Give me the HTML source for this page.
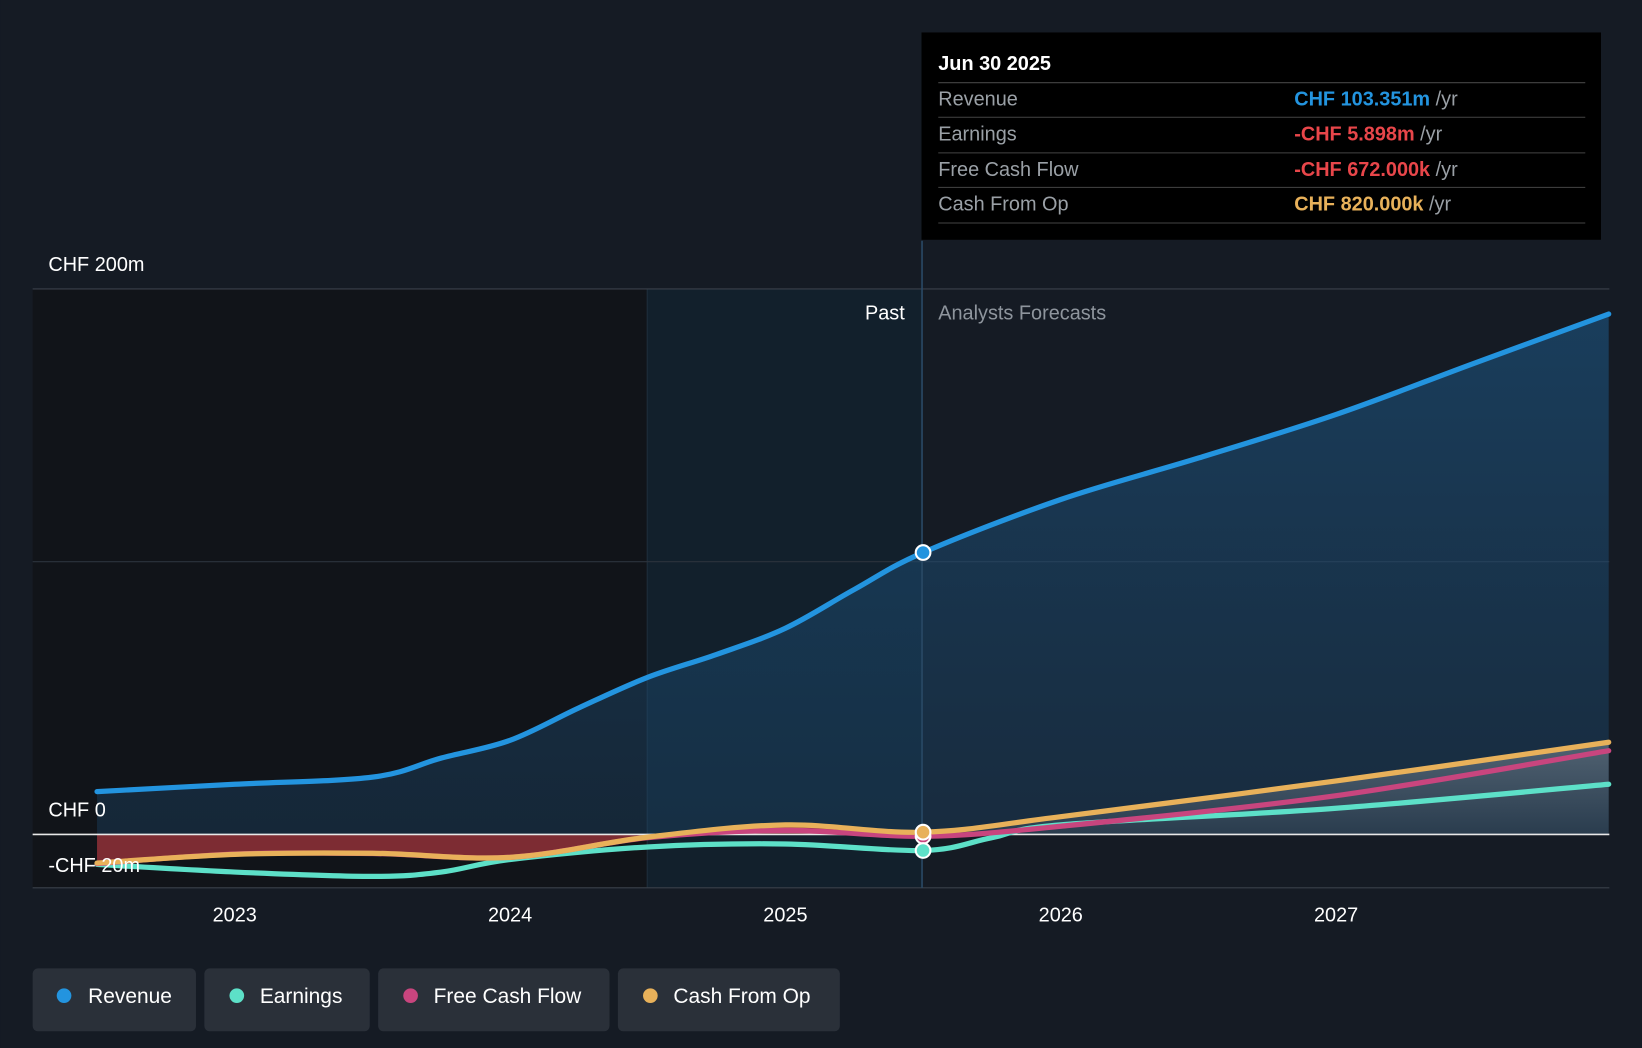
<!DOCTYPE html>
<html><head><meta charset="utf-8"><style>
html,body{margin:0;padding:0;background:#151b24;}
svg{display:block;font-family:"Liberation Sans",sans-serif;}
</style></head><body>
<svg id="chart" width="1642" height="1048" viewBox="0 0 1568 1001" xmlns="http://www.w3.org/2000/svg">
<defs>
<linearGradient id="revg" x1="0" y1="0" x2="0" y2="1"><stop offset="0" stop-color="#1d5a8a" stop-opacity="0.55"/><stop offset="1" stop-color="#1d4a70" stop-opacity="0.35"/></linearGradient>
<linearGradient id="gryg" x1="0" y1="0" x2="0" y2="1"><stop offset="0" stop-color="#8a96a0" stop-opacity="0.5"/><stop offset="1" stop-color="#8a96a0" stop-opacity="0.05"/></linearGradient>
<clipPath id="pastclip"><rect x="0" y="0" width="880" height="1001"/></clipPath>
<clipPath id="futclip"><rect x="880" y="0" width="700" height="797"/></clipPath>
</defs>
<rect width="1568" height="1001" fill="#151b24"/>
<rect x="31" y="276" width="587" height="572" fill="#111419"/>
<rect x="618" y="276" width="262" height="572" fill="#12202c"/>
<line x1="618" y1="276" x2="618" y2="848" stroke="#1f2f3c" stroke-width="1"/>
<line x1="31" y1="276" x2="1537" y2="276" stroke="#3a414a" stroke-width="1"/>
<line x1="31" y1="536.5" x2="1537" y2="536.5" stroke="#2c333c" stroke-width="1"/>
<line x1="31" y1="848" x2="1537" y2="848" stroke="#3a414a" stroke-width="1"/>
<g id="areas"></g>
<line x1="31" y1="797" x2="1537" y2="797" stroke="#e8e8e8" stroke-width="1.5"/>
<g id="lines"></g>
<line x1="880.5" y1="230" x2="880.5" y2="848" stroke="#2a4a66" stroke-width="1.5"/>
<text x="46" y="259" fill="#fff" font-size="19">CHF 200m</text>
<text x="46" y="780" fill="#fff" font-size="19">CHF 0</text>
<text x="46" y="833" fill="#fff" font-size="19">-CHF 20m</text>
<text x="864" y="305" fill="#fff" font-size="19" text-anchor="end">Past</text>
<text x="896" y="305" fill="#8e959d" font-size="19">Analysts Forecasts</text>
<g id="xticks"></g>
<g id="markers"></g>
<g>
<rect x="880" y="31" width="649" height="198" fill="#000"/>
<text x="896" y="67" fill="#fff" font-size="19" font-weight="bold">Jun 30 2025</text>
<line x1="896" y1="79" x2="1514" y2="79" stroke="#444" /><line x1="896" y1="112" x2="1514" y2="112" stroke="#444"/><line x1="896" y1="146" x2="1514" y2="146" stroke="#444"/><line x1="896" y1="179" x2="1514" y2="179" stroke="#444"/><line x1="896" y1="213" x2="1514" y2="213" stroke="#444"/>
<text x="896" y="101" fill="#9aa0a6" font-size="19">Revenue</text><text x="1236" y="101" font-size="19"><tspan fill="#2394df" font-weight="bold">CHF 103.351m</tspan><tspan fill="#9aa0a6"> /yr</tspan></text>
<text x="896" y="134" fill="#9aa0a6" font-size="19">Earnings</text><text x="1236" y="134" font-size="19"><tspan fill="#e8464a" font-weight="bold">-CHF 5.898m</tspan><tspan fill="#9aa0a6"> /yr</tspan></text>
<text x="896" y="168" fill="#9aa0a6" font-size="19">Free Cash Flow</text><text x="1236" y="168" font-size="19"><tspan fill="#e8464a" font-weight="bold">-CHF 672.000k</tspan><tspan fill="#9aa0a6"> /yr</tspan></text>
<text x="896" y="201" fill="#9aa0a6" font-size="19">Cash From Op</text><text x="1236" y="201" font-size="19"><tspan fill="#e8b15a" font-weight="bold">CHF 820.000k</tspan><tspan fill="#9aa0a6"> /yr</tspan></text>
</g>
<g>
<g><rect x="31" y="925" width="156" height="60" rx="5" fill="#2a3039"/><circle cx="61" cy="951" r="7" fill="#2394df"/><text x="84" y="958" fill="#fff" font-size="20">Revenue</text></g>
<g><rect x="195" y="925" width="158" height="60" rx="5" fill="#2a3039"/><circle cx="226" cy="951" r="7" fill="#5de0c8"/><text x="248" y="958" fill="#fff" font-size="20">Earnings</text></g>
<g><rect x="361" y="925" width="221" height="60" rx="5" fill="#2a3039"/><circle cx="392" cy="951" r="7" fill="#c8457e"/><text x="414" y="958" fill="#fff" font-size="20">Free Cash Flow</text></g>
<g><rect x="590" y="925" width="212" height="60" rx="5" fill="#2a3039"/><circle cx="621" cy="951" r="7" fill="#e8b15a"/><text x="643" y="958" fill="#fff" font-size="20">Cash From Op</text></g>
</g>
</svg>
<script>
const years=[2022.5,2023,2023.5,2023.75,2024,2024.25,2024.5,2024.75,2025,2025.25,2025.5,2026,2026.5,2027,2027.5,2027.99];
const revenue=[15.7,18.4,21,28,34.5,46.4,57.6,66,75.6,89.8,103.35,122.8,138,154,172.7,190.8];
const earnTimes=[2022.5,2023,2023.5,2023.75,2024,2024.5,2025,2025.5,2025.75,2026,2027,2027.99];
const earnings=[-11,-13.8,-15.4,-13.8,-9.2,-4.6,-3.5,-5.9,-1.2,3.5,9.6,18.4];
const cfTimes=[2022.5,2023,2023.5,2024,2024.5,2025,2025.5,2026,2027,2027.99];
const fcf=[-10.7,-7.2,-7,-8.4,-1.2,1.5,-0.67,3,14.2,30.7];
const cfo=[-10.5,-7.3,-6.9,-8.4,-1,3.5,0.82,6.5,19.6,33.8];
const tickYears=[2023,2024,2025,2026,2027];
const xS=t=>224+(t-2023)*263;
const yS=v=>797-v*2.605;
const NS="http://www.w3.org/2000/svg";
function pts(ts,vs){return ts.map((t,i)=>[xS(t),yS(vs[i])]);}
function smooth(p){let d=`M${p[0][0]},${p[0][1]}`;for(let i=0;i<p.length-1;i++){const p0=p[i-1]||p[i],p1=p[i],p2=p[i+1],p3=p[i+2]||p2;const c1=[p1[0]+(p2[0]-p0[0])/6,p1[1]+(p2[1]-p0[1])/6],c2=[p2[0]-(p3[0]-p1[0])/6,p2[1]-(p3[1]-p1[1])/6];d+=` C${c1[0]},${c1[1]} ${c2[0]},${c2[1]} ${p2[0]},${p2[1]}`;}return d;}
function mk(parent,tag,attrs){const e=document.createElementNS(NS,tag);for(const k in attrs)e.setAttribute(k,attrs[k]);document.getElementById(parent).appendChild(e);return e;}
const rp=pts(years,revenue),ep=pts(earnTimes,earnings),fp=pts(cfTimes,fcf),cp=pts(cfTimes,cfo);
const z=yS(0);
let a=mk('areas','path',{d:smooth(rp)+` L${rp[rp.length-1][0]},${z} L${rp[0][0]},${z} Z`,fill:'url(#revg)'});


a=mk('areas','path',{d:smooth(cp)+` L${cp[cp.length-1][0]},${z} L${cp[0][0]},${z} Z`,fill:'#8a2f36','fill-opacity':'0.9','clip-path':'url(#pastclip)'});


a=mk('areas','path',{d:smooth(cp)+` L${cp[cp.length-1][0]},${z} L${cp[0][0]},${z} Z`,fill:'url(#gryg)','clip-path':'url(#futclip)'});


const series=[['earnings-line',ep,'#5de0c8'],['free-cash-flow-line',fp,'#c8457e'],['cash-from-op-line',cp,'#e8b15a'],['revenue-line',rp,'#2394df']];
for(const [n,p,c] of series){const l=mk('lines','path',{d:smooth(p),fill:'none',stroke:c,'stroke-width':5,'stroke-linecap':'round'});

}
for(const y of tickYears){const t=mk('xticks','text',{x:xS(y),y:880,fill:'#fff','font-size':19,'text-anchor':'middle'});t.textContent=y;

}
const mx=[['revenue-marker',revenue[10],'#2394df'],['fcf-marker',fcf[6],'#c8457e'],['earnings-marker',earnings[7],'#5de0c8'],['cfo-marker',cfo[6],'#e8b15a']];
for(const [n,v,c] of mx){const m=mk('markers','circle',{cx:xS(2025.5),cy:yS(v),r:7,fill:c,stroke:'#fff','stroke-width':2});

}
</script>
</body></html>
